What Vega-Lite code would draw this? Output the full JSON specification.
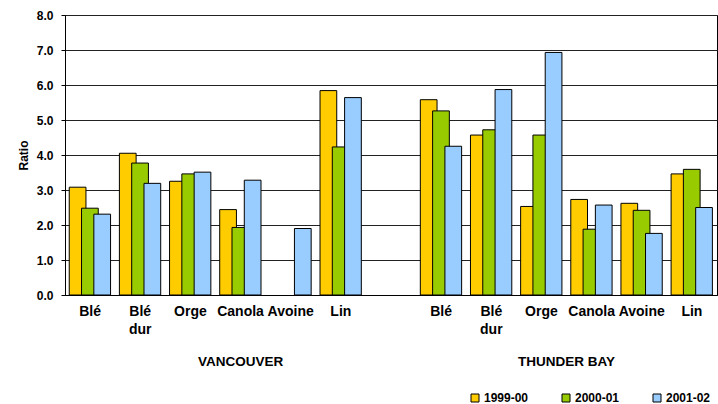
{
  "$schema": "https://vega.github.io/schema/vega-lite/v6.json",
  "width": 652,
  "height": 280,
  "autosize": {"type": "none"},
  "padding": {"left": 65, "top": 15, "right": 1, "bottom": 109},
  "background": "#ffffff",
  "config": {
    "font": "Liberation Sans",
    "view": {"stroke": "#000000", "strokeWidth": 1},
    "axis": {"labelColor": "#000000", "titleColor": "#000000", "domainColor": "#000000", "tickColor": "#000000"}
  },
  "layer": [
    {
      "data": {
        "values": [
          {"slot": "V-Blé", "city": "VANCOUVER", "crop": "Blé", "year": "1999-00", "ratio": 3.08},
          {"slot": "V-Blé", "city": "VANCOUVER", "crop": "Blé", "year": "2000-01", "ratio": 2.48},
          {"slot": "V-Blé", "city": "VANCOUVER", "crop": "Blé", "year": "2001-02", "ratio": 2.31},
          {"slot": "V-Blé dur", "city": "VANCOUVER", "crop": "Blé dur", "year": "1999-00", "ratio": 4.05},
          {"slot": "V-Blé dur", "city": "VANCOUVER", "crop": "Blé dur", "year": "2000-01", "ratio": 3.77},
          {"slot": "V-Blé dur", "city": "VANCOUVER", "crop": "Blé dur", "year": "2001-02", "ratio": 3.19},
          {"slot": "V-Orge", "city": "VANCOUVER", "crop": "Orge", "year": "1999-00", "ratio": 3.25},
          {"slot": "V-Orge", "city": "VANCOUVER", "crop": "Orge", "year": "2000-01", "ratio": 3.46},
          {"slot": "V-Orge", "city": "VANCOUVER", "crop": "Orge", "year": "2001-02", "ratio": 3.51},
          {"slot": "V-Canola", "city": "VANCOUVER", "crop": "Canola", "year": "1999-00", "ratio": 2.44},
          {"slot": "V-Canola", "city": "VANCOUVER", "crop": "Canola", "year": "2000-01", "ratio": 1.93},
          {"slot": "V-Canola", "city": "VANCOUVER", "crop": "Canola", "year": "2001-02", "ratio": 3.28},
          {"slot": "V-Avoine", "city": "VANCOUVER", "crop": "Avoine", "year": "2001-02", "ratio": 1.9},
          {"slot": "V-Lin", "city": "VANCOUVER", "crop": "Lin", "year": "1999-00", "ratio": 5.84},
          {"slot": "V-Lin", "city": "VANCOUVER", "crop": "Lin", "year": "2000-01", "ratio": 4.23},
          {"slot": "V-Lin", "city": "VANCOUVER", "crop": "Lin", "year": "2001-02", "ratio": 5.64},
          {"slot": "T-Blé", "city": "THUNDER BAY", "crop": "Blé", "year": "1999-00", "ratio": 5.58},
          {"slot": "T-Blé", "city": "THUNDER BAY", "crop": "Blé", "year": "2000-01", "ratio": 5.26},
          {"slot": "T-Blé", "city": "THUNDER BAY", "crop": "Blé", "year": "2001-02", "ratio": 4.25},
          {"slot": "T-Blé dur", "city": "THUNDER BAY", "crop": "Blé dur", "year": "1999-00", "ratio": 4.57},
          {"slot": "T-Blé dur", "city": "THUNDER BAY", "crop": "Blé dur", "year": "2000-01", "ratio": 4.72},
          {"slot": "T-Blé dur", "city": "THUNDER BAY", "crop": "Blé dur", "year": "2001-02", "ratio": 5.87},
          {"slot": "T-Orge", "city": "THUNDER BAY", "crop": "Orge", "year": "1999-00", "ratio": 2.53},
          {"slot": "T-Orge", "city": "THUNDER BAY", "crop": "Orge", "year": "2000-01", "ratio": 4.57},
          {"slot": "T-Orge", "city": "THUNDER BAY", "crop": "Orge", "year": "2001-02", "ratio": 6.93},
          {"slot": "T-Canola", "city": "THUNDER BAY", "crop": "Canola", "year": "1999-00", "ratio": 2.73},
          {"slot": "T-Canola", "city": "THUNDER BAY", "crop": "Canola", "year": "2000-01", "ratio": 1.88},
          {"slot": "T-Canola", "city": "THUNDER BAY", "crop": "Canola", "year": "2001-02", "ratio": 2.57},
          {"slot": "T-Avoine", "city": "THUNDER BAY", "crop": "Avoine", "year": "1999-00", "ratio": 2.62},
          {"slot": "T-Avoine", "city": "THUNDER BAY", "crop": "Avoine", "year": "2000-01", "ratio": 2.42},
          {"slot": "T-Avoine", "city": "THUNDER BAY", "crop": "Avoine", "year": "2001-02", "ratio": 1.76},
          {"slot": "T-Lin", "city": "THUNDER BAY", "crop": "Lin", "year": "1999-00", "ratio": 3.46},
          {"slot": "T-Lin", "city": "THUNDER BAY", "crop": "Lin", "year": "2000-01", "ratio": 3.59},
          {"slot": "T-Lin", "city": "THUNDER BAY", "crop": "Lin", "year": "2001-02", "ratio": 2.5}
        ]
      },
      "mark": {"type": "bar", "stroke": "#000000", "strokeWidth": 1, "width": {"band": 1.36}},
      "encoding": {
        "x": {
          "field": "slot",
          "type": "nominal",
          "sort": null,
          "scale": {
            "domain": ["V-Blé", "V-Blé dur", "V-Orge", "V-Canola", "V-Avoine", "V-Lin", "gap", "T-Blé", "T-Blé dur", "T-Orge", "T-Canola", "T-Avoine", "T-Lin"],
            "paddingInner": 0,
            "paddingOuter": 0
          },
          "axis": {
            "title": null,
            "labelAngle": 0,
            "labelExpr": "datum.label == 'gap' ? '' : split(substring(datum.label, 2), ' ')",
            "labelFontSize": 14,
            "labelFontWeight": "bold",
            "labelPadding": 9,
            "labelLineHeight": 18,
            "ticks": false,
            "tickSize": 0,
            "grid": false,
            "domainColor": "#000000"
          }
        },
        "xOffset": {
          "field": "year",
          "type": "nominal",
          "scale": {"domain": ["1999-00", "2000-01", "2001-02"], "paddingInner": 0, "paddingOuter": 0.54, "align": 1}
        },
        "y": {
          "field": "ratio",
          "type": "quantitative",
          "scale": {"domain": [0, 8], "nice": false},
          "axis": {
            "title": "Ratio",
            "titleFontSize": 12,
            "titleFontWeight": "bold",
            "titlePadding": 6,
            "values": [0, 1, 2, 3, 4, 5, 6, 7, 8],
            "format": ".1f",
            "labelOverlap": false,
            "labelFontSize": 12,
            "labelFontWeight": "bold",
            "labelPadding": 8,
            "tickSize": 4,
            "gridColor": "#222222",
            "gridWidth": 1,
            "gridOpacity": 1
          }
        },
        "color": {
          "field": "year",
          "type": "nominal",
          "scale": {"domain": ["1999-00", "2000-01", "2001-02"], "range": ["#FFCC00", "#99CC00", "#99CCFF"]},
          "legend": {
            "orient": "none",
            "legendX": 404,
            "legendY": 377,
            "direction": "horizontal",
            "title": null,
            "symbolType": "square",
            "symbolSize": 64,
            "symbolStrokeColor": "#000000",
            "symbolStrokeWidth": 1,
            "symbolOpacity": 1,
            "labelFontSize": 12,
            "labelFontWeight": "bold",
            "labelColor": "#000000",
            "labelOffset": 3,
            "columnPadding": 31
          }
        }
      }
    },
    {
      "data": {"values": [{"slot": "V-Canola", "label": "VANCOUVER"}]},
      "mark": {"type": "text", "dy": 67, "fontSize": 13.5, "fontWeight": "bold", "baseline": "middle", "align": "center", "color": "#000000"},
      "encoding": {
        "x": {"field": "slot", "type": "nominal", "bandPosition": 0.5},
        "y": {
          "datum": 0,
          "type": "quantitative",
          "axis": {
            "title": "Ratio",
            "titleFontSize": 12,
            "titleFontWeight": "bold",
            "titlePadding": 6,
            "values": [0, 1, 2, 3, 4, 5, 6, 7, 8],
            "format": ".1f",
            "labelOverlap": false,
            "labelFontSize": 12,
            "labelFontWeight": "bold",
            "labelPadding": 8,
            "tickSize": 4,
            "gridColor": "#222222",
            "gridWidth": 1,
            "gridOpacity": 1
          }
        },
        "text": {"field": "label"}
      }
    },
    {
      "data": {"values": [{"slot": "T-Canola", "label": "THUNDER BAY"}]},
      "mark": {"type": "text", "dy": 67, "fontSize": 13.5, "fontWeight": "bold", "baseline": "middle", "align": "center", "color": "#000000"},
      "encoding": {
        "x": {"field": "slot", "type": "nominal", "bandPosition": 0},
        "y": {
          "datum": 0,
          "type": "quantitative",
          "axis": {
            "title": "Ratio",
            "titleFontSize": 12,
            "titleFontWeight": "bold",
            "titlePadding": 6,
            "values": [0, 1, 2, 3, 4, 5, 6, 7, 8],
            "format": ".1f",
            "labelOverlap": false,
            "labelFontSize": 12,
            "labelFontWeight": "bold",
            "labelPadding": 8,
            "tickSize": 4,
            "gridColor": "#222222",
            "gridWidth": 1,
            "gridOpacity": 1
          }
        },
        "text": {"field": "label"}
      }
    }
  ]
}
